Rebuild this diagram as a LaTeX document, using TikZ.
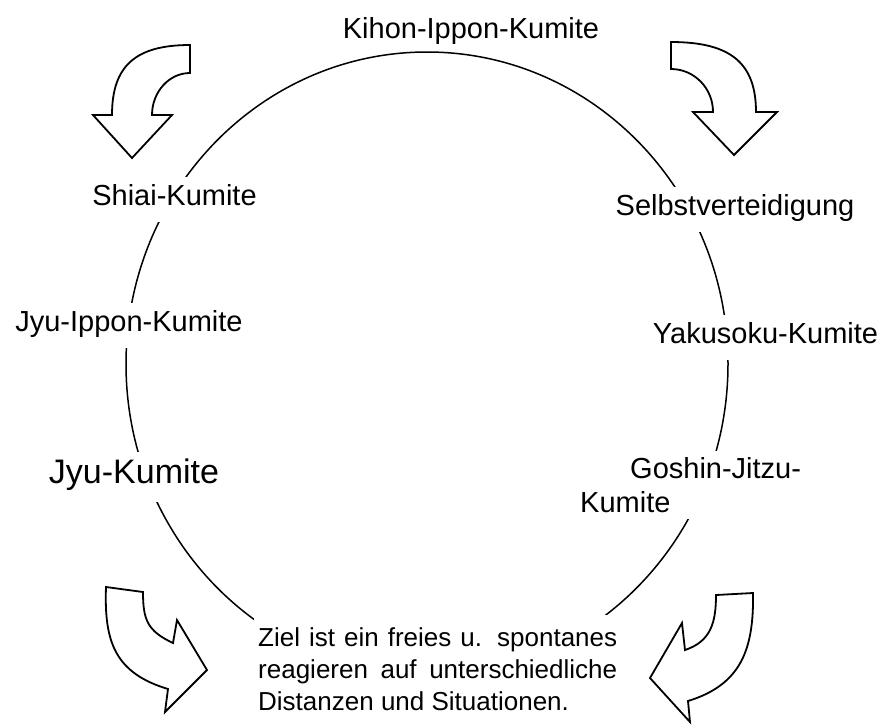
\documentclass[tikz,border=0pt]{standalone}
\usepackage{fontspec}
\setmainfont{Liberation Sans}

\tikzstyle{ring}=[draw,line width=1.5pt]
\tikzstyle{tag}=[fill=white,font=\fontsize{29}{34}\selectfont,inner xsep=2pt,inner ysep=6pt]
\tikzstyle{side tag}=[tag,anchor=base,text height=22pt,text depth=11pt]
\tikzstyle{bent arrow}=[draw,line width=1.8pt,line join=miter,fill=white]

\begin{document}
\begin{tikzpicture}[x=1pt,y=-1pt]
	\useasboundingbox (0,0) rectangle (883,724);
			% First we draw the ring
			\draw[ring] (427,364) ellipse [x radius=301,y radius=312];
			% Stations round the ring
			\node[tag,fill=none,anchor=base] (kihon) at (471,38) {Kihon-Ippon-Kumite};
			\node[side tag] (shiai) at (174.5,205) {Shiai-Kumite};
			\node[side tag] (jyuippon) at (129,331) {Jyu-Ippon-Kumite};
			\node[side tag,font=\fontsize{34}{40}\selectfont,text height=25pt,text depth=13pt] (jyu) at (134,483) {Jyu-Kumite};
			\node[side tag] (selbst) at (735,215) {Selbstverteidigung};
			\node[side tag] (yakusoku) at (765.5,343) {Yakusoku-Kumite};
			\node[tag,anchor=north west,align=left] (goshin) at (578,451) {\hspace*{50pt}Goshin-Jitzu-\\Kumite};
			\node[fill=white,font=\fontsize{26}{32}\selectfont,text width=359pt,align=justify,inner xsep=4pt,inner ysep=12pt,anchor=north west] (ziel) at (254,615)
				{\tolerance=9999 Ziel ist ein freies u. spontanes\linebreak reagieren auf unterschiedliche\linebreak Distanzen und Situationen.};
			% The four bent arrows
			\path[bent arrow] (190,45) .. controls (135.4,45) and (112,66) .. (112,115) -- (93,115) -- (132,158) -- (172,115) -- (152,115) .. controls (152,92) and (169,73) .. (190,73) -- cycle;
			\path[bent arrow] (671,42) .. controls (730.5,42) and (756,63) .. (756,112) -- (777,112) -- (734,155) -- (693,112) -- (713,112) .. controls (713,88) and (694,69) .. (671,69) -- cycle;
			\path[bent arrow] (106,587) .. controls (104,642) and (115,673) .. (168,689) -- (165,712) -- (207,670) -- (177,620) -- (173,643) .. controls (147.5,631) and (143,620) .. (143,592) -- cycle;
			\path[bent arrow] (753,593) .. controls (754,650) and (740.6,684.8) .. (688,701) -- (690,722) -- (650,678) -- (682,623) -- (685,650) .. controls (710.6,641.4) and (716,623) .. (716,595) -- cycle;
\end{tikzpicture}
\end{document}
